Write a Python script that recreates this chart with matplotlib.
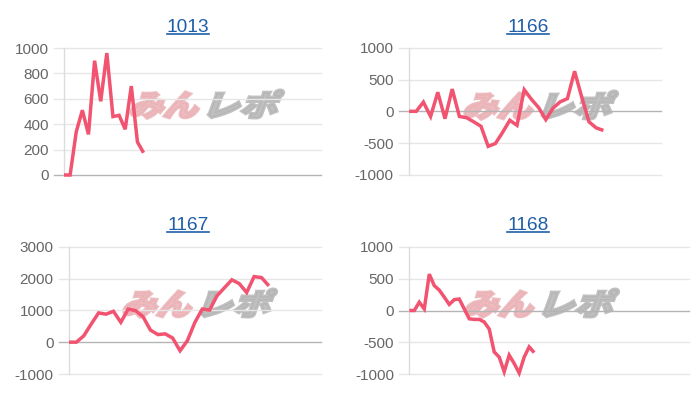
import matplotlib
matplotlib.use("Agg")
import matplotlib.pyplot as plt
import numpy as np
from matplotlib.textpath import TextPath
from matplotlib.font_manager import FontProperties
from matplotlib.patches import PathPatch
from matplotlib.transforms import Affine2D, IdentityTransform
from matplotlib.lines import Line2D

# ---------------- data ----------------
titles = ["1013", "1166", "1167", "1168"]
n_labels = [43, 36, 35, 57]

values_1013 = [0, 0, 340, 510, 320, 900, 580, 960, 460, 470, 360, 700, 260, 175]
values_1166 = [0, 0, 145, -80, 300, -115, 350, -80, -100, -165, -235, -550, -505,
               -330, -140, -220, 340, 190, 60, -130, 50, 150, 200, 630, 220,
               -165, -260, -300]
values_1167 = [0, 0, 200, 570, 920, 880, 970, 625, 1040, 990, 800, 380, 240, 260,
               130, -270, 50, 620, 1040, 1010, 1460, 1710, 1960, 1840, 1560,
               2060, 2030, 1770]
values_1168 = [0, 0, 130, 25, 570, 390, 320, 210, 95, 170, 180, 25, -130, -140,
               -140, -180, -290, -650, -730, -960, -700, -830, -980, -730, -570,
               -660]
series = [values_1013, values_1166, values_1167, values_1168]

y_ticks = [
    [0, 200, 400, 600, 800, 1000],
    [-1000, -500, 0, 500, 1000],
    [-1000, 0, 1000, 2000, 3000],
    [-1000, -500, 0, 500, 1000],
]

# ---------------- layout (pixels, y from top) ----------------
W, H = 700, 400
boxes = [  # left, right, top, bottom
    (64, 321, 48, 175),
    (409, 661, 47.7, 175),
    (69, 320.7, 246.7, 374),
    (409.3, 689, 246.7, 374.3),
]
title_pos = [(188, 31.7), (528, 31.7), (188, 230), (528, 230)]
wm_pos = [(128, 118), (462, 119), (121, 317), (463, 317)]

LINE_C = "#f15370"
GRID_C = "#e6e6e6"
ZERO_C = "#b4b4b4"
AXIS_C = "#dcdcdc"
TICK_C = "#666666"
TITLE_C = "#1f5ea8"

plt.rcParams["font.family"] = ["Liberation Sans", "DejaVu Sans"]

fig = plt.figure(figsize=(W / 100, H / 100), dpi=100)

jp = FontProperties(family="Noto Sans CJK JP", weight="black")

for i in range(4):
    l, r, t, b = boxes[i]
    ax = fig.add_axes([l / W, 1 - b / H, (r - l) / W, (b - t) / H])
    n = n_labels[i]
    vals = series[i]
    yt = y_ticks[i]
    ax.set_xlim(0, n - 1)
    ax.set_ylim(yt[0], yt[-1])
    for s in ["top", "right", "bottom"]:
        ax.spines[s].set_visible(False)
    ax.spines["left"].set_color(AXIS_C)
    ax.spines["left"].set_linewidth(1)
    ax.set_xticks([])
    ax.set_yticks(yt)
    ax.set_yticklabels([str(v) for v in yt])
    ax.tick_params(axis="y", length=0, pad=11, labelsize=11, labelcolor=TICK_C)
    wpx = r - l
    for v in yt:
        c = ZERO_C if v == 0 else GRID_C
        ax.axhline(v, xmin=-10 / wpx, xmax=1, color=c, lw=1, clip_on=False,
                   zorder=1)
    ax.plot(np.arange(len(vals)), vals, color=LINE_C, lw=2.5,
            solid_joinstyle="miter", solid_capstyle="butt", zorder=5,
            clip_on=False)

    # watermark
    wx, wy = wm_pos[i]
    size = 33
    skew = Affine2D().skew_deg(16, 0)
    p1 = TextPath((0, 0), "みん", size=size, prop=jp)
    p2 = TextPath((0, 0), "レポ", size=size, prop=jp)
    base_y = H - wy + 2
    t1 = skew + Affine2D().scale(1.05, 0.9) + Affine2D().translate(wx, base_y)
    t2 = skew + Affine2D().scale(1.15, 0.9) + Affine2D().translate(wx + 73, base_y)
    fig.patches.append(PathPatch(t1.transform_path(p1), facecolor="#eab1b5",
                                 edgecolor="#eab1b5", lw=2.2, alpha=0.85,
                                 transform=IdentityTransform(), zorder=0.5))
    fig.patches.append(PathPatch(t2.transform_path(p2), facecolor="#b5b5b5",
                                 edgecolor="#b5b5b5", lw=2.2, alpha=0.85,
                                 transform=IdentityTransform(), zorder=0.5))
    ax.set_facecolor("none")
    ax.set_zorder(2)

# titles with underline
texts = []
for i in range(4):
    x, y = title_pos[i]
    tx = fig.text(x / W, 1 - y / H, titles[i], ha="center", va="baseline",
                  fontsize=13.8, color=TITLE_C)
    texts.append(tx)
fig.canvas.draw()
rend = fig.canvas.get_renderer()
for i, tx in enumerate(texts):
    bb = tx.get_window_extent(rend)
    x, y = title_pos[i]
    uy = 1 - (y + 2.0) / H
    fig.lines.append(Line2D([bb.x0 / W, bb.x1 / W], [uy, uy],
                            transform=fig.transFigure, color=TITLE_C, lw=1.2))

fig.savefig("out.png", dpi=100)
